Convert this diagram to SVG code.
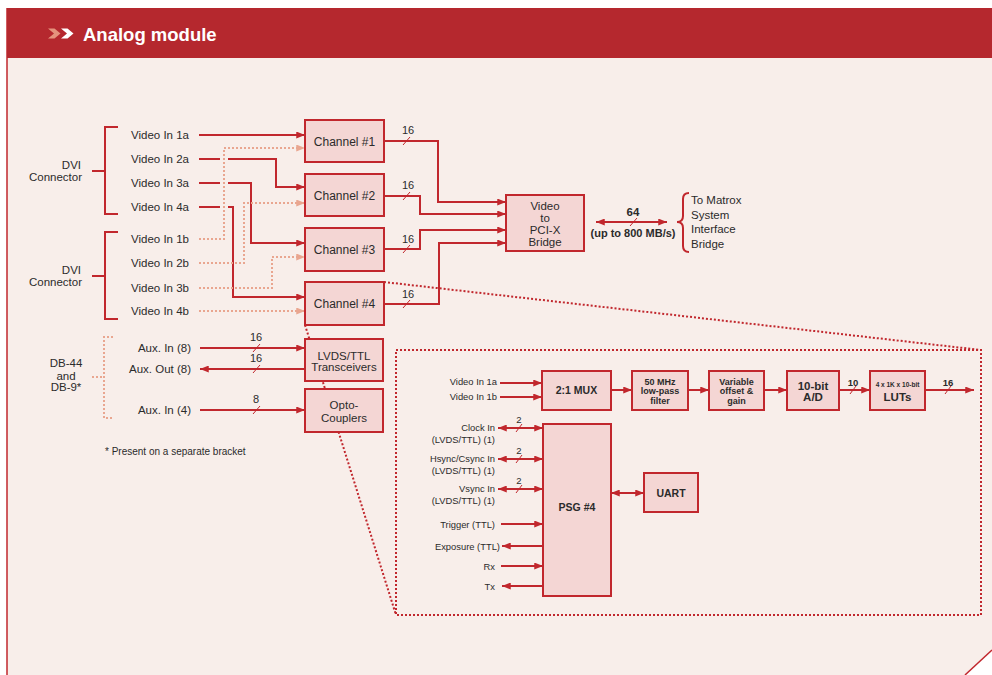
<svg xmlns="http://www.w3.org/2000/svg" width="992" height="675" viewBox="0 0 992 675">
<defs>
<style>
text{font-family:"Liberation Sans",Arial,sans-serif;fill:#2b2b2b}
.t{font-size:11.5px}
.tc{font-size:11.5px;text-anchor:middle}
.te{font-size:11.5px;text-anchor:end}
.b{font-weight:bold}
.s{font-size:9.4px}
.se{font-size:9.4px;text-anchor:end}
.sm{font-size:9px;font-weight:bold;text-anchor:middle}
.box{fill:#f4d6d4;stroke:#c1272d;stroke-width:2}
.w{fill:none;stroke:#c1272d;stroke-width:2}
.d{fill:none;stroke:#e9a690;stroke-width:2;stroke-dasharray:2 2}
.z{fill:none;stroke:#c1272d;stroke-width:2;stroke-dasharray:2 2}
.sl{stroke:#c1272d;stroke-width:1}
.a{marker-end:url(#ah)}
.a2{marker-start:url(#ah);marker-end:url(#ah)}
.as{marker-end:url(#ahs)}
</style>
<marker id="ah" viewBox="0 0 10 8" refX="10" refY="4" markerWidth="10" markerHeight="7" markerUnits="userSpaceOnUse" orient="auto-start-reverse"><path d="M0,0 L10,4 L0,8 Z" fill="#c1272d"/></marker>
<marker id="ahs" viewBox="0 0 10 8" refX="10" refY="4" markerWidth="10" markerHeight="7" markerUnits="userSpaceOnUse" orient="auto-start-reverse"><path d="M0,0 L10,4 L0,8 Z" fill="#e9a690"/></marker>
</defs>

<g id="frame">
<rect x="0" y="0" width="992" height="675" fill="#ffffff"/>
<path d="M7,8 H992 V650 L965,675 H7 Z" fill="#f8eeea"/>
<line x1="7" y1="8" x2="7" y2="675" stroke="#c1272d" stroke-width="1.5"/>
<line x1="992" y1="650" x2="965" y2="675" stroke="#c1272d" stroke-width="1.5"/>
<rect x="7" y="8" width="985" height="50" fill="#b5282e"/>
<path d="M48,28.5 L54.5,28.5 L60.5,33.5 L54.5,38.5 L48,38.5 L54,33.5 Z" fill="#e5937d"/>
<path d="M61,28.5 L67.5,28.5 L73.5,33.5 L67.5,38.5 L61,38.5 L67,33.5 Z" fill="#ffffff"/>
<text x="83" y="40.5" style="font-size:18.5px;font-weight:bold;fill:#ffffff">Analog module</text>
</g>

<g id="inset">
<rect x="396" y="350" width="585" height="265" fill="#dcdddf" class="z"/>
</g>

<g id="zoom-lines">
<line x1="384" y1="282" x2="981" y2="350" class="z"/>
<line x1="305" y1="325" x2="396" y2="615" class="z"/>
</g>

<g id="dvi1">
<path d="M118,127 H105 V214 H118 M92,171 H105" class="w"/>
<text x="81" y="169" class="te">DVI</text>
<text x="82" y="181" class="te">Connector</text>
<text x="131" y="138.5" class="t">Video In 1a</text>
<text x="131" y="162.5" class="t">Video In 2a</text>
<text x="131" y="186.5" class="t">Video In 3a</text>
<text x="131" y="210.5" class="t">Video In 4a</text>
</g>
<g id="dvi2">
<path d="M118,232 H105 V319 H118 M92,276 H105" class="w"/>
<text x="81" y="274" class="te">DVI</text>
<text x="82" y="286" class="te">Connector</text>
<text x="131" y="242.5" class="t">Video In 1b</text>
<text x="131" y="266.5" class="t">Video In 2b</text>
<text x="131" y="291.5" class="t">Video In 3b</text>
<text x="131" y="314.5" class="t">Video In 4b</text>
</g>
<g id="db">
<path d="M113,337 H104 V418 H113 M92,377 H104" class="d"/>
<text x="66" y="367" class="tc">DB-44</text>
<text x="66" y="380" class="tc">and</text>
<text x="66" y="391" class="tc">DB-9*</text>
<text x="191" y="351.5" class="te">Aux. In (8)</text>
<text x="191" y="373" class="te">Aux. Out (8)</text>
<text x="191" y="414" class="te">Aux. In (4)</text>
<text x="105" y="455" style="font-size:10px">* Present on a separate bracket</text>
</g>

<g id="connectors">
<path d="M199,135 H305" class="w a"/>
<path d="M199,239 H224 V148 H305" class="d as"/>
<path d="M199,159 H220 M228,159 H276 V187 H305" class="w a"/>
<path d="M199,183 H220 M228,183 H251 V243 H305" class="w a"/>
<path d="M199,207 H220 M228,207 H233 V297 H305" class="w a"/>
<path d="M199,263 H244 V203 H305" class="d as"/>
<path d="M199,288 H272 V257 H305" class="d as"/>
<path d="M199,311 H305" class="d as"/>
<path d="M384,141 H438 V202 H506" class="w a"/>
<path d="M384,196 H420 V214 H506" class="w a"/>
<path d="M384,249 H420 V230 H506" class="w a"/>
<path d="M384,304 H439 V243 H506" class="w a"/>
<path d="M596,222 H667" class="w a2"/>
<path d="M689,193 Q683,193 683,199 V216 Q683,222 677,222 Q683,222 683,228 V246 Q683,252 689,252" class="w"/>
<path d="M200,348 H305" class="w a"/>
<path d="M305,369 H200" class="w a"/>
<path d="M200,410 H305" class="w a"/>
<path d="M500,383 H542" class="w a"/>
<path d="M500,397 H542" class="w a"/>
<path d="M611,390 H632" class="w a"/>
<path d="M688,390 H709" class="w a"/>
<path d="M764,390 H787" class="w a"/>
<path d="M839,390 H870" class="w a"/>
<path d="M925,390 H974" class="w a"/>
<path d="M498,428 H543" class="w a2"/>
<path d="M498,459 H543" class="w a2"/>
<path d="M498,489 H543" class="w a2"/>
<path d="M501,524 H543" class="w a"/>
<path d="M543,546 H502" class="w a"/>
<path d="M501,566 H543" class="w a"/>
<path d="M543,586 H502" class="w a"/>
<path d="M611,493 H644" class="w a2"/>
<g id="bus-marks">
<line x1="403" y1="145" x2="410" y2="137" class="sl"/>
<line x1="403" y1="200" x2="410" y2="192" class="sl"/>
<line x1="403" y1="253" x2="410" y2="245" class="sl"/>
<line x1="403" y1="308" x2="410" y2="300" class="sl"/>
<line x1="630" y1="226" x2="637" y2="218" class="sl"/>
<line x1="253" y1="352" x2="260" y2="344" class="sl"/>
<line x1="253" y1="373" x2="260" y2="365" class="sl"/>
<line x1="253" y1="414" x2="260" y2="406" class="sl"/>
<line x1="516" y1="432" x2="522" y2="424" class="sl"/>
<line x1="516" y1="463" x2="522" y2="455" class="sl"/>
<line x1="516" y1="493" x2="522" y2="485" class="sl"/>
<line x1="850" y1="394" x2="856" y2="386" class="sl"/>
<line x1="945" y1="394" x2="951" y2="386" class="sl"/>
</g>
<text x="408" y="134" class="tc" style="font-size:11px">16</text>
<text x="408" y="189" class="tc" style="font-size:11px">16</text>
<text x="408" y="243" class="tc" style="font-size:11px">16</text>
<text x="408" y="298" class="tc" style="font-size:11px">16</text>
<text x="633" y="216" class="tc b">64</text>
<text x="633" y="237" class="tc b" style="font-size:11px">(up to 800 MB/s)</text>
<text x="256" y="341" class="tc" style="font-size:11px">16</text>
<text x="256" y="362" class="tc" style="font-size:11px">16</text>
<text x="256" y="403" class="tc" style="font-size:11px">8</text>
<text x="519" y="423" class="tc" style="font-size:9.5px">2</text>
<text x="519" y="454" class="tc" style="font-size:9.5px">2</text>
<text x="519" y="484" class="tc" style="font-size:9.5px">2</text>
<text x="853" y="386" class="tc b" style="font-size:9.5px">10</text>
<text x="948" y="386" class="tc b" style="font-size:9.5px">16</text>
</g>

<g id="ch1"><rect x="305" y="120" width="79" height="42" class="box"/><text x="344.5" y="145.5" class="tc" style="font-size:12px">Channel #1</text></g>
<g id="ch2"><rect x="305" y="174" width="79" height="42" class="box"/><text x="344.5" y="199.5" class="tc" style="font-size:12px">Channel #2</text></g>
<g id="ch3"><rect x="305" y="228" width="79" height="43" class="box"/><text x="344.5" y="254" class="tc" style="font-size:12px">Channel #3</text></g>
<g id="ch4"><rect x="305" y="282" width="79" height="43" class="box"/><text x="344.5" y="308" class="tc" style="font-size:12px">Channel #4</text></g>
<g id="bridge"><rect x="506" y="195" width="78" height="56" class="box"/>
<text x="545" y="210" class="tc">Video</text><text x="545" y="222" class="tc">to</text><text x="545" y="234" class="tc">PCI-X</text><text x="545" y="246" class="tc">Bridge</text></g>
<g id="matrox">
<text x="691" y="204" class="t">To Matrox</text><text x="691" y="218.5" class="t">System</text><text x="691" y="233" class="t">Interface</text><text x="691" y="248" class="t">Bridge</text></g>
<g id="lvds"><rect x="305" y="339" width="78" height="42" class="box"/><text x="344" y="359.5" class="tc">LVDS/TTL</text><text x="344" y="370.5" class="tc">Transceivers</text></g>
<g id="opto"><rect x="305" y="389" width="78" height="43" class="box"/><text x="344" y="409" class="tc">Opto-</text><text x="344" y="421.5" class="tc">Couplers</text></g>

<g id="in-labels">
<text x="497" y="385" class="se">Video In 1a</text>
<text x="497" y="399.5" class="se">Video In 1b</text>
<text x="495" y="430.5" class="se">Clock In</text>
<text x="495" y="442.5" class="se">(LVDS/TTL) (1)</text>
<text x="495" y="461.5" class="se">Hsync/Csync In</text>
<text x="495" y="473.5" class="se">(LVDS/TTL) (1)</text>
<text x="495" y="491.5" class="se">Vsync In</text>
<text x="495" y="503.5" class="se">(LVDS/TTL) (1)</text>
<text x="495" y="527.5" class="se">Trigger (TTL)</text>
<text x="500" y="549.5" class="se">Exposure (TTL)</text>
<text x="495" y="569.5" class="se">Rx</text>
<text x="495" y="589.5" class="se">Tx</text>
</g>
<g id="mux"><rect x="542" y="371" width="69" height="39" class="box"/><text x="576.5" y="394" class="tc b" style="font-size:10.5px">2:1 MUX</text></g>
<g id="filter"><rect x="632" y="371" width="56" height="39" class="box"/>
<text x="660" y="384.5" class="sm">50 MHz</text><text x="660" y="394" class="sm">low-pass</text><text x="660" y="403.5" class="sm">filter</text></g>
<g id="offset"><rect x="709" y="371" width="55" height="39" class="box"/>
<text x="736.5" y="384.5" class="sm">Variable</text><text x="736.5" y="394" class="sm">offset &amp;</text><text x="736.5" y="403.5" class="sm">gain</text></g>
<g id="adc"><rect x="787" y="371" width="52" height="39" class="box"/>
<text x="813" y="390" class="tc b">10-bit</text><text x="813" y="400.5" class="tc b">A/D</text></g>
<g id="luts"><rect x="870" y="371" width="55" height="39" class="box"/>
<text x="897.5" y="387" class="tc b" style="font-size:6.5px">4 x 1K x 10-bit</text><text x="897.5" y="400.5" class="tc b">LUTs</text></g>
<g id="psg"><rect x="543" y="424" width="68" height="172" class="box"/><text x="577" y="511" class="tc b" style="font-size:10.5px">PSG #4</text></g>
<g id="uart"><rect x="644" y="473" width="54" height="39" class="box"/><text x="671" y="497" class="tc b" style="font-size:10.5px">UART</text></g>
</svg>
